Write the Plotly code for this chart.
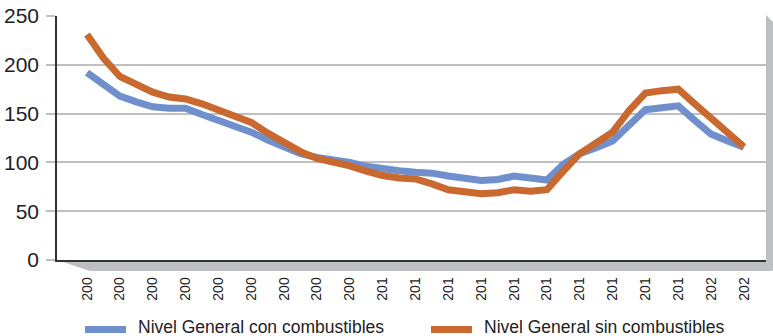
import plotly.graph_objects as go

# Semiannual index values, first half of 2001 through first half of 2021
periods = [2001 + i / 2 for i in range(41)]

con_combustibles = [
    192, 181, 168, 162, 157, 155.5, 155.5, 149, 143, 136,
    131, 123, 116, 109, 105, 103, 100, 96, 93, 91.5,
    90, 89, 86, 83, 81.5, 82.5, 86, 84, 82, 98,
    109, 115, 122, 138, 154, 156, 158, 143, 129, 122,
    115.5,
]
sin_combustibles = [
    231, 207, 188, 180, 172, 167, 165, 160, 154, 148,
    141, 130, 119.5, 111, 104, 100.5, 96.5, 91, 86.5, 84,
    83, 78, 72, 70, 68, 69, 72, 70.5, 72, 91,
    109, 120, 131, 153, 171, 173.5, 175, 160, 145, 130,
    116,
]

series_names = ["Nivel General con combustibles", "Nivel General sin combustibles"]
series_colors = ["#7090CD", "#C9692F"]

# Year ticks; labels are the truncated year strings
tick_years = list(range(2001, 2022))
tick_labels = [
    "200", "200", "200", "200", "200", "200", "200", "200", "200",
    "201", "201", "201", "201", "201", "201", "201", "201", "201", "201",
    "202", "202",
]
y_ticks = [0, 50, 100, 150, 200, 250]

W, H = 773, 336
ML, MR, MT, MB = 57, 7, 16, 76
PW, PH = W - ML - MR, H - MT - MB


def px_x(px):
    return (px - ML) / PW


def px_y(py):
    return 1 - (py - MT) / PH


fig = go.Figure()
for name, vals, col in zip(series_names, [con_combustibles, sin_combustibles], series_colors):
    fig.add_trace(go.Scatter(
        x=periods, y=vals, name=name, mode="lines",
        line=dict(color=col, width=7, shape="linear"),
        showlegend=False,
    ))

shapes = []
# floor below the plot area
shapes.append(dict(
    type="path", xref="paper", yref="paper", layer="below",
    path=f"M {px_x(57)},{px_y(260)} L {px_x(766)},{px_y(260)} "
         f"L {px_x(773)},{px_y(271)} L {px_x(90)},{px_y(271)} Z",
    fillcolor="#BEBFC3", line=dict(width=0),
))
# right side wall
shapes.append(dict(
    type="path", xref="paper", yref="paper", layer="below",
    path=f"M {px_x(766)},{px_y(15)} L {px_x(773)},{px_y(22)} "
         f"L {px_x(773)},{px_y(271)} L {px_x(766)},{px_y(260)} Z",
    fillcolor="#BEBFC3", line=dict(width=0),
))

# legend drawn below the chart
annotations = []
legend_items = [(85, 126, 136), (431, 472, 482)]
for (x0, x1, tx), name, col in zip(legend_items, series_names, series_colors):
    shapes.append(dict(
        type="line", xref="paper", yref="paper",
        x0=px_x(x0), x1=px_x(x1), y0=px_y(329.5), y1=px_y(329.5),
        line=dict(color=col, width=7),
    ))
    annotations.append(dict(
        xref="paper", yref="paper", x=px_x(tx), y=px_y(327),
        xanchor="left", yanchor="middle", showarrow=False, text=name,
        font=dict(family="Liberation Sans, Arial, sans-serif", size=17.5, color="#222222"),
    ))

fig.update_layout(
    width=W, height=H,
    margin=dict(l=ML, r=MR, t=MT, b=MB, autoexpand=False),
    paper_bgcolor="white", plot_bgcolor="white",
    shapes=shapes, annotations=annotations,
    xaxis=dict(
        range=[2000.087, 2021.67], automargin=False,
        tickmode="array", tickvals=tick_years, ticktext=tick_labels,
        tickangle=-90, ticklabelstandoff=10,
        tickfont=dict(family="Liberation Sans, Arial, sans-serif", size=14, color="#222222"),
        showgrid=False, zeroline=False,
        showline=True, linecolor="#333333", linewidth=1.5,
        ticks="",
    ),
    yaxis=dict(
        range=[0, 250], automargin=False,
        tickmode="array", tickvals=y_ticks,
        tickfont=dict(family="Liberation Sans, Arial, sans-serif", size=21, color="#222222"),
        showgrid=True, gridcolor="#BFBFBF", gridwidth=1.5,
        zeroline=False,
        showline=True, linecolor="#333333", linewidth=1.5,
        ticks="outside", ticklen=9, tickcolor="#BFBFBF", tickwidth=1.5,
        ticklabelstandoff=3,
    ),
)

fig.write_html("out.html")
